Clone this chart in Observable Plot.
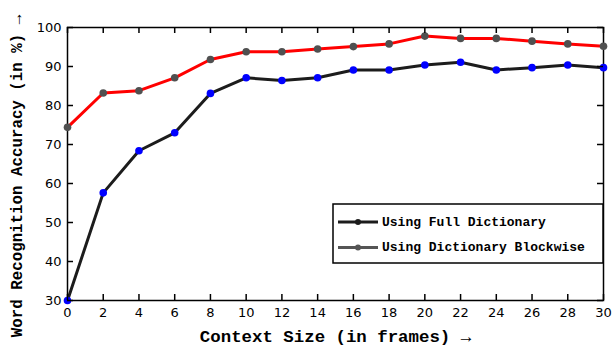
<!DOCTYPE html>
<html>
<head>
<meta charset="utf-8">
<script src="https://cdn.jsdelivr.net/npm/d3@7"></script>
<script src="https://cdn.jsdelivr.net/npm/@observablehq/plot@0.6"></script>
<style>
  html, body { margin: 0; padding: 0; background: #fff; }
</style>
</head>
<body>
<div id="chart"></div>
<script>
const contextSize = [0, 2, 4, 6, 8, 10, 12, 14, 16, 18, 20, 22, 24, 26, 28, 30];
const fullDictionary = [30.0, 57.6, 68.4, 73.0, 83.1, 87.1, 86.4, 87.1, 89.1, 89.1, 90.4, 91.1, 89.1, 89.7, 90.4, 89.7];
const blockwise = [74.4, 83.2, 83.8, 87.1, 91.8, 93.8, 93.8, 94.5, 95.1, 95.8, 97.8, 97.2, 97.2, 96.5, 95.8, 95.2];
const xTicks = [0, 2, 4, 6, 8, 10, 12, 14, 16, 18, 20, 22, 24, 26, 28, 30];
const yTicks = [30, 40, 50, 60, 70, 80, 90, 100];
const seriesNames = ["Using Full Dictionary", "Using Dictionary Blockwise"];
const xLabel = "Context Size (in frames) \u2192";
const yLabel = "Word Recognition Accuracy (in %) \u2192";

const full = contextSize.map((x, i) => ({x, y: fullDictionary[i]}));
const block = contextSize.map((x, i) => ({x, y: blockwise[i]}));

const W = 614, H = 347, mL = 67, mR = 11, mT = 27, mB = 47;
const xDom = [0, 30], yDom = [30, 100];
// inward tick length (≈6px) expressed in each domain's units
const tkX = (xDom[1] - xDom[0]) * 6 / (W - mL - mR);
const tkY = (yDom[1] - yDom[0]) * 6 / (H - mT - mB);

const plot = Plot.plot({
  width: W, height: H,
  marginLeft: mL, marginRight: mR, marginTop: mT, marginBottom: mB,
  style: {fontFamily: "DejaVu Sans", fontSize: "13px", background: "#fff", color: "#000"},
  x: {domain: xDom, ticks: xTicks, tickSize: 0, tickPadding: 7, label: null},
  y: {domain: yDom, ticks: yTicks, tickSize: 0, tickPadding: 6, label: null},
  marks: [
    Plot.frame({stroke: "#000", strokeWidth: 1.5}),
    Plot.line(block, {x: "x", y: "y", stroke: "#ff0000", strokeWidth: 3}),
    Plot.dot(block, {x: "x", y: "y", fill: "#505050", r: 3.8}),
    Plot.line(full, {x: "x", y: "y", stroke: "#1c1c1c", strokeWidth: 3}),
    Plot.dot(full, {x: "x", y: "y", fill: "#0000ff", r: 3.8}),
    Plot.ruleX(xTicks, {x: d => d, y1: yDom[0], y2: yDom[0] + tkY, stroke: "#000", strokeWidth: 1.5}),
    Plot.ruleX(xTicks, {x: d => d, y1: yDom[1], y2: yDom[1] - tkY, stroke: "#000", strokeWidth: 1.5}),
    Plot.ruleY(yTicks, {y: d => d, x1: xDom[0], x2: xDom[0] + tkX, stroke: "#000", strokeWidth: 1.5}),
    Plot.ruleY(yTicks, {y: d => d, x1: xDom[1], x2: xDom[1] - tkX, stroke: "#000", strokeWidth: 1.5})
  ]
});
document.getElementById("chart").appendChild(plot);

const svg = d3.select(plot);
const mono = "'Liberation Mono', 'DejaVu Sans Mono', monospace";
svg.append("text")
  .attr("x", 335.5).attr("y", 337)
  .attr("text-anchor", "middle").attr("dominant-baseline", "central")
  .style("font-family", mono).style("font-weight", "bold").style("font-size", "17.4px")
  .text(xLabel);
svg.append("text")
  .attr("transform", "translate(18,176) rotate(-90)")
  .attr("text-anchor", "middle").attr("dominant-baseline", "central")
  .style("font-family", mono).style("font-weight", "bold").style("font-size", "15.8px")
  .text(yLabel);

const lg = svg.append("g");
lg.append("rect").attr("x", 333).attr("y", 204).attr("width", 270).attr("height", 59)
  .attr("fill", "#fff").attr("stroke", "#000").attr("stroke-width", 1.5);
const legendColors = ["#1c1c1c", "#555555"];
seriesNames.forEach((name, i) => {
  const y = 222 + i * 25.5;
  lg.append("line").attr("x1", 338).attr("x2", 378).attr("y1", y).attr("y2", y)
    .attr("stroke", legendColors[i]).attr("stroke-width", 3);
  lg.append("circle").attr("cx", 358).attr("cy", y).attr("r", 3).attr("fill", legendColors[i]);
  lg.append("text").attr("x", 382).attr("y", y)
    .attr("text-anchor", "start").attr("dominant-baseline", "central")
    .style("font-family", mono).style("font-weight", "bold").style("font-size", "13px")
    .text(name);
});
</script>
</body>
</html>
